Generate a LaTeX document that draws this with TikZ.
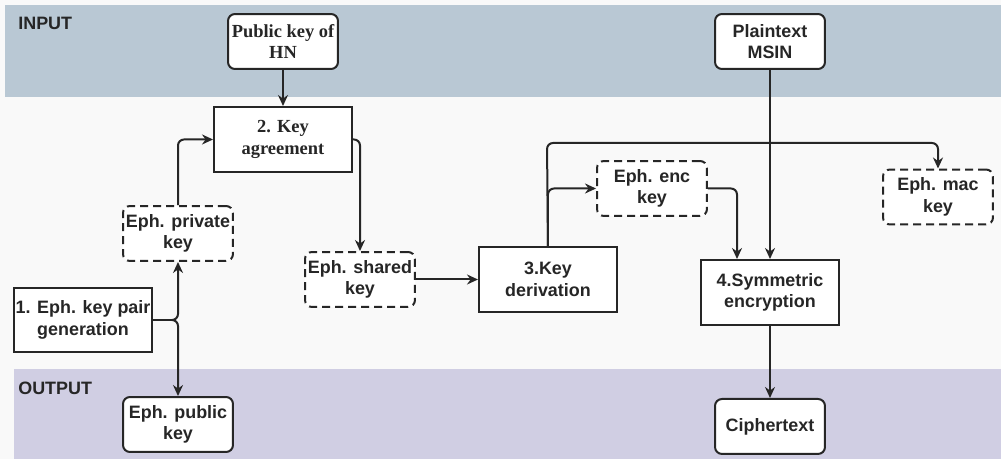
\documentclass[tikz,border=0pt]{standalone}
\usepackage{fontspec}
\setmainfont{Liberation Sans}
\newfontfamily\serifbold{Liberation Serif}
\usepackage{xcolor}
\usepackage{tikz}
\usetikzlibrary{arrows.meta, positioning}

\definecolor{paper}{HTML}{F9F9F9}
\definecolor{inband}{HTML}{B9C8D4}
\definecolor{outband}{HTML}{D0CEE3}
\definecolor{ink}{HTML}{262626}

\begin{document}
\begin{tikzpicture}[
    x=0.02cm, y=-0.02cm,
    every node/.style={font=\fontsize{10.2}{12.3}\selectfont\bfseries, text=ink},
    keybox/.style={rectangle, draw=ink, line width=0.04cm, fill=white, minimum width=2.2cm, minimum height=1.1cm, align=center, rounded corners=0.14cm, inner sep=1pt},
    tmpkey/.style={keybox, dash pattern=on 0.16cm off 0.1cm},
    stepbox/.style={rectangle, draw=ink, line width=0.04cm, fill=white, minimum width=2.76cm, minimum height=1.3cm, align=center, inner sep=1pt},
    serifnode/.style={font=\fontsize{10.5}{12.3}\selectfont\serifbold\bfseries},
    flow/.style={-{Stealth[length=0.22cm, width=0.2cm]}, draw=ink, line width=0.04cm, rounded corners=0.12cm},
    band/.style={anchor=west, inner sep=0pt},
]

% Bands
\fill[paper] (0,0) rectangle (1001,459);
\useasboundingbox (0,0) rectangle (1001,459);
\fill[inband] (5,5) rectangle (1001,97);
\fill[outband] (14,369) rectangle (1001,459);
\node[band] (inlabel) at (18,23.5) {INPUT};
\node[band] (outlabel) at (18,388.5) {OUTPUT};

% Inputs
\node[keybox, serifnode] (hnkey) at (283,41.5) {Public key of\\HN};
\node[keybox] (msin) at (770,41.5) {Plaintext\\MSIN};

% Steps
\node[stepbox, serifnode, below=0.72cm of hnkey] (agree) {2. Key\\agreement};
\node[stepbox] (keygen) at (83,320) {1. Eph. key pair\\generation};
\node[stepbox] (symenc) at (770,292.5) {4.Symmetric\\encryption};

% Ephemeral keys
\node[tmpkey] (privkey) at (178,233.5) {Eph. private\\key};
\node[tmpkey] (sharedkey) at (360,279.5) {Eph. shared\\key};
\node[stepbox, right=1.24cm of sharedkey] (derive) {3.Key\\derivation};
\node[tmpkey] (enckey) at (652,188.5) {Eph. enc\\key};
\node[tmpkey] (mackey) at (938,197) {Eph. mac\\key};

% Outputs
\node[keybox] (pubkey) at (178,424.5) {Eph. public\\key};
\node[keybox, below=1.44cm of symenc] (cipher) {Ciphertext};

\coordinate (split) at (547,143);

% Flows
\draw[flow] (hnkey) -- (agree);
\draw[flow] (privkey.north) |- (agree.west);
\draw[flow] (agree.east) -| (sharedkey.north);
\draw[flow] (sharedkey) -- (derive);
\draw[flow] (keygen.east) -| (privkey.south);
\draw[flow] (keygen.east) -| (pubkey.north);
\draw[flow] (derive.north) -- (split) -| (mackey.north);
\draw[flow] (derive.north) |- (enckey.west);
\draw[flow] (enckey.east) -| ([xshift=-0.66cm]symenc.north);
\draw[flow] (msin) -- (symenc);
\draw[flow] (symenc) -- (cipher);

\end{tikzpicture}
\end{document}
